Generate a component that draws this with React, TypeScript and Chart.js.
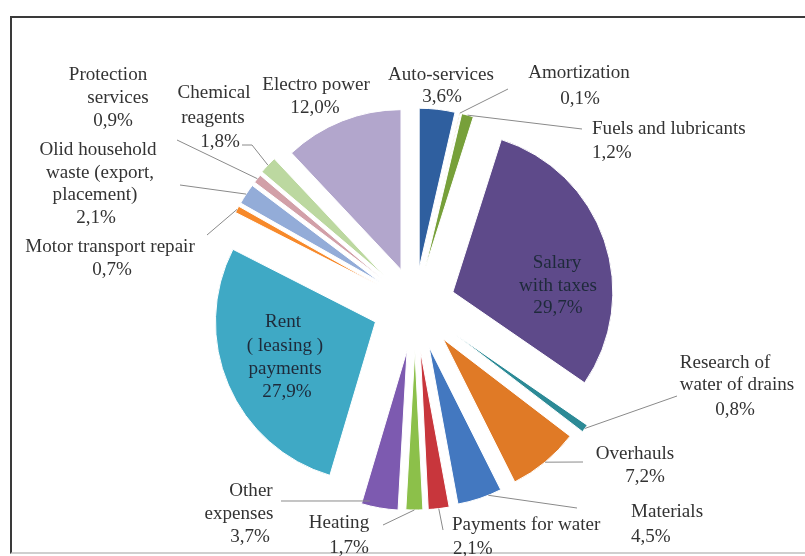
import { useEffect, useRef } from 'react';
import { Chart, registerables } from 'chart.js';

Chart.register(...registerables);

// ---- data ----
const categories = [
  'Auto-services',
  'Amortization',
  'Fuels and lubricants',
  'Salary with taxes',
  'Research of water of drains',
  'Overhauls',
  'Materials',
  'Payments for water',
  'Heating',
  'Other expenses',
  'Rent (leasing) payments',
  'Motor transport repair',
  'Olid household waste (export, placement)',
  'Protection services',
  'Chemical reagents',
  'Electro power',
];
const shares = [3.6, 0.1, 1.2, 29.7, 0.8, 7.2, 4.5, 2.1, 1.7, 3.7, 27.9, 0.7, 2.1, 0.9, 1.8, 12.0];
// label text lines (value line is appended from shares)
const labelLines: string[][] = [
  ['Auto-services'],
  ['Amortization'],
  ['Fuels and lubricants'],
  ['Salary', 'with taxes'],
  ['Research of', 'water of drains'],
  ['Overhauls'],
  ['Materials'],
  ['Payments for water'],
  ['Heating'],
  ['Other', 'expenses'],
  ['Rent', '( leasing )', 'payments'],
  ['Motor transport repair'],
  ['Olid household', 'waste (export,', 'placement)'],
  ['Protection', 'services'],
  ['Chemical', 'reagents'],
  ['Electro power'],
];

// ---- styles ----
const colors = [
  '#2f5f9f', '#d8c070', '#77a03a', '#5e4a8a', '#2c8a96', '#e07a26', '#4378c0', '#c8363c',
  '#8cc04a', '#7d5ab0', '#3fa9c5', '#f7892a', '#93acd8', '#d2a0a8', '#bcd8a0', '#b2a6cc',
];
const explode = [37, 37, 37, 40, 50, 44, 44, 45, 45, 46, 43, 42, 42, 42, 43, 38];
type Lay = {
  align: CanvasTextAlign;
  pos: number[][];
  leader?: number[][];
  anchor?: [number, number]; // [fraction of slice angle, fraction of radius]
  inside?: boolean;
};
const layout: Lay[] = [
  { align: 'center', pos: [[441, 75], [442, 97]] },
  { align: 'center', pos: [[579, 73], [580, 99]], leader: [[508, 89]] },
  { align: 'left', pos: [[592, 129], [592, 153]], leader: [[582, 129]] },
  { align: 'center', pos: [[557, 263], [558, 286], [558, 308]], inside: true },
  { align: 'center', pos: [[725, 363], [737, 385], [735, 410]], leader: [[677, 396]] },
  { align: 'center', pos: [[635, 454], [645, 477]], leader: [[583, 462]] },
  { align: 'left', pos: [[631, 512], [631, 537]], leader: [[577, 508]], anchor: [0.3, 1] },
  { align: 'left', pos: [[452, 525], [453, 549]], leader: [[443, 530]] },
  { align: 'center', pos: [[339, 523], [349, 548]], leader: [[383, 525]] },
  { align: 'center', pos: [[251, 491], [239, 514], [250, 537]], leader: [[281, 501]], anchor: [0.8, 0.97] },
  { align: 'center', pos: [[283, 322], [285, 346], [285, 369], [287, 392]], inside: true },
  { align: 'center', pos: [[110, 247], [112, 270]], leader: [[207, 235]] },
  { align: 'center', pos: [[98, 150], [100, 173], [95, 195], [96, 218]], leader: [[180, 185]] },
  { align: 'center', pos: [[108, 75], [118, 98], [113, 121]], leader: [[177, 140]] },
  { align: 'center', pos: [[214, 93], [213, 118], [220, 142]], leader: [[242, 145], [252, 145]] },
  { align: 'center', pos: [[316, 85], [315, 108]] },
];
const RADIUS = 160;
const FONT = '18px "Liberation Serif", "Times New Roman", serif';
const TEXT_STRETCH = 1.06;

const fmt = (v: number) => v.toFixed(1).replace('.', ',') + '%';

const explodePlugin = {
  id: 'explode',
  beforeDatasetDraw(chart: any, args: any) {
    const ctx = chart.ctx;
    args.meta.data.forEach((arc: any, i: number) => {
      const t = explode[i] || 0;
      const mid = (arc.startAngle + arc.endAngle) / 2;
      ctx.save();
      ctx.translate(Math.cos(mid) * t, Math.sin(mid) * t);
      arc.draw(ctx);
      ctx.restore();
    });
    return false;
  },
  afterDatasetsDraw(chart: any) {
    const ctx = chart.ctx;
    const meta = chart.getDatasetMeta(0);
    ctx.save();
    meta.data.forEach((arc: any, i: number) => {
      const lay = layout[i];
      const t = explode[i] || 0;
      const mid = (arc.startAngle + arc.endAngle) / 2;
      if (lay.leader) {
        const [af, rf] = lay.anchor || [0.5, 1];
        const ang = arc.startAngle + (arc.endAngle - arc.startAngle) * af;
        const cx = arc.x + Math.cos(mid) * t;
        const cy = arc.y + Math.sin(mid) * t;
        const ax = cx + Math.cos(ang) * arc.outerRadius * rf;
        const ay = cy + Math.sin(ang) * arc.outerRadius * rf;
        ctx.beginPath();
        ctx.strokeStyle = '#8a8a8a';
        ctx.lineWidth = 1;
        ctx.moveTo(lay.leader[0][0], lay.leader[0][1]);
        for (let k = 1; k < lay.leader.length; k++) ctx.lineTo(lay.leader[k][0], lay.leader[k][1]);
        ctx.lineTo(ax, ay);
        ctx.stroke();
      }
      const lines = [...labelLines[i], fmt(shares[i])];
      ctx.font = FONT;
      ctx.textAlign = lay.align;
      ctx.textBaseline = 'middle';
      ctx.fillStyle = lay.inside ? '#1e2a3a' : '#333333';
      lines.forEach((s, k) => {
        const p = lay.pos[k];
        if (!p) return;
        ctx.save();
        ctx.translate(p[0], p[1]);
        ctx.scale(TEXT_STRETCH, 1);
        ctx.fillText(s, 0, 0);
        ctx.restore();
      });
    });
    ctx.restore();
  },
};

export default function App() {
  const ref = useRef<HTMLCanvasElement | null>(null);
  useEffect(() => {
    if (!ref.current) return;
    const chart = new Chart(ref.current, {
      type: 'pie',
      data: {
        labels: categories,
        datasets: [
          {
            data: shares,
            backgroundColor: colors,
            borderColor: '#ffffff',
            borderWidth: 1,
          },
        ],
      },
      options: {
        responsive: false,
        animation: false,
        events: [],
        radius: RADIUS,
        layout: { padding: { left: 25, right: 0, top: 54, bottom: 0 } },
        plugins: {
          legend: { display: false },
          tooltip: { enabled: false },
          title: { display: false },
        },
      } as any,
      plugins: [explodePlugin],
    });
    return () => chart.destroy();
  }, []);

  return (
    <div style={{ position: 'absolute', left: 0, top: 0, width: 805, height: 556, overflow: 'hidden', background: '#fff' }}>
      <div
        style={{
          position: 'absolute',
          left: 10,
          top: 16,
          width: 820,
          height: 534,
          borderTop: '2px solid #3a3a3a',
          borderLeft: '2px solid #3a3a3a',
          borderBottom: '2px solid #cfcfcf',
        }}
      />
      <canvas ref={ref} width={805} height={556} style={{ position: 'absolute', left: 0, top: 0 }} />
    </div>
  );
}
